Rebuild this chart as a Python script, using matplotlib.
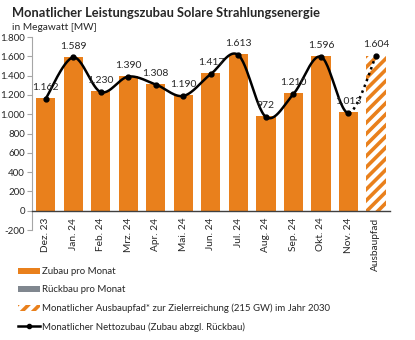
"""Monatlicher Leistungszubau Solare Strahlungsenergie - Balken + geglaettete Linie."""

import matplotlib

matplotlib.use("Agg")
import matplotlib.pyplot as plt
import numpy as np
from matplotlib.lines import Line2D
from matplotlib.patches import Patch

plt.rcParams["font.family"] = ["Lato", "DejaVu Sans"]
plt.rcParams["hatch.linewidth"] = 2.6

months = ["Dez. 23", "Jan. 24", "Feb. 24", "Mrz. 24", "Apr. 24", "Mai. 24",
          "Jun. 24", "Jul. 24", "Aug. 24", "Sep. 24", "Okt. 24", "Nov. 24"]
path_label = "Ausbaupfad"
zubau = [1167, 1596, 1236, 1396, 1315, 1196, 1424, 1628, 986, 1218, 1604, 1021]
rueckbau = [-5, -7, -6, -6, -7, -6, -7, -15, -14, -8, -8, -8]
netto = [1162, 1589, 1230, 1390, 1308, 1190, 1417, 1613, 972, 1210, 1596, 1013]
ausbaupfad = 1604
yticks = [-200, 0, 200, 400, 600, 800, 1000, 1200, 1400, 1600, 1800]

ORANGE = "#E9801C"
GRAY = "#80878F"
TXT = "#262626"


def de_num(v):
    return f"{v:,.0f}".replace(",", ".")


def catmull_rom(xs, ys, n=30):
    # Excel-aehnliche Glaettung der Linie
    px = np.concatenate([[xs[0]], xs, [xs[-1]]])
    py = np.concatenate([[ys[0]], ys, [ys[-1]]])
    t = np.linspace(0, 1, n)[:, None]
    out_x, out_y = [], []
    for i in range(1, len(px) - 2):
        for p, out in ((px, out_x), (py, out_y)):
            p0, p1, p2, p3 = p[i - 1], p[i], p[i + 1], p[i + 2]
            seg = 0.5 * (2 * p1 + (-p0 + p2) * t + (2 * p0 - 5 * p1 + 4 * p2 - p3) * t ** 2
                         + (-p0 + 3 * p1 - 3 * p2 + p3) * t ** 3)
            out.append(seg.ravel())
    return np.concatenate(out_x), np.concatenate(out_y)


fig = plt.figure(figsize=(4.15, 3.4), dpi=100)
ax = fig.add_axes([0.0771, 0.3235, 0.862, 0.5675])

# spine first: set_position resets the tick styling
ax.spines["bottom"].set_position(("data", 0))
ax.spines["bottom"].set_color("#404040")
ax.spines["bottom"].set_linewidth(1.0)
ax.spines["left"].set_color("#A6A6A6")
ax.spines["top"].set_visible(False)
ax.spines["right"].set_visible(False)

x = np.arange(len(months))
x_all = np.arange(len(months) + 1)
ax.bar(x, zubau, width=0.7, color=ORANGE, zorder=2)
ax.bar(x, rueckbau, width=0.7, color=GRAY, zorder=2)
ax.bar(len(months), ausbaupfad, width=0.7, facecolor="white", edgecolor=ORANGE,
       hatch="///", linewidth=0, zorder=2)

y_all = np.array(netto + [ausbaupfad], dtype=float)
sx, sy = catmull_rom(x_all.astype(float), y_all)
n_seg = 30
cut = (len(months) - 1) * n_seg
ax.plot(sx[:cut], sy[:cut], color="black", lw=1.8, zorder=3, solid_capstyle="round")
ax.plot(sx[cut:], sy[cut:], color="black", lw=1.8, ls=(0, (1, 1.5)), zorder=3)
ax.plot(x_all, y_all, "o", color="black", ms=3.5, zorder=4)

for xi, yi in zip(x_all, y_all):
    ax.annotate(de_num(yi), (xi, yi), xytext=(0, 8), textcoords="offset points",
                ha="center", va="center", fontsize=7.5, color=TXT, zorder=5)

ax.set_xlim(-0.5, len(months) + 0.5)
ax.set_ylim(-200, 1800)
ax.set_yticks(yticks)
ax.set_yticklabels([de_num(v) for v in yticks], fontsize=7.0, color=TXT)
ax.set_xticks(x_all)
ax.set_xticklabels(months + [path_label], rotation=90, fontsize=7.3, color=TXT)
ax.tick_params(axis="x", length=0, pad=5)
ax.tick_params(axis="y", length=3.5, width=0.8, color="#A6A6A6", pad=1.5)

fig.text(0.029, 0.962, "Monatlicher Leistungszubau Solare Strahlungsenergie",
         fontsize=9.3, fontweight="bold", color=TXT, va="center")
fig.text(0.029, 0.918, "in Megawatt [MW]", fontsize=7.3, color=TXT, va="center")

handles = [
    Patch(facecolor=ORANGE, edgecolor="none"),
    Patch(facecolor=GRAY, edgecolor="none"),
    Patch(facecolor="white", edgecolor=ORANGE, hatch="///", linewidth=0),
    Line2D([0], [0], color="black", lw=1.8, marker="o", ms=3),
]
labels = [
    "Zubau pro Monat",
    "Rückbau pro Monat",
    "Monatlicher Ausbaupfad* zur Zielerreichung (215 GW) im Jahr 2030",
    "Monatlicher Nettozubau (Zubau abzgl. Rückbau)",
]
fig.legend(handles, labels, loc="upper left", bbox_to_anchor=(0.043, 0.214),
           frameon=False, fontsize=6.9, handlelength=2.3, handleheight=0.6,
           handletextpad=0.2, labelspacing=0.95, borderaxespad=0, borderpad=0,
           numpoints=1, labelcolor=TXT)

fig.savefig("out.png", dpi=100)
